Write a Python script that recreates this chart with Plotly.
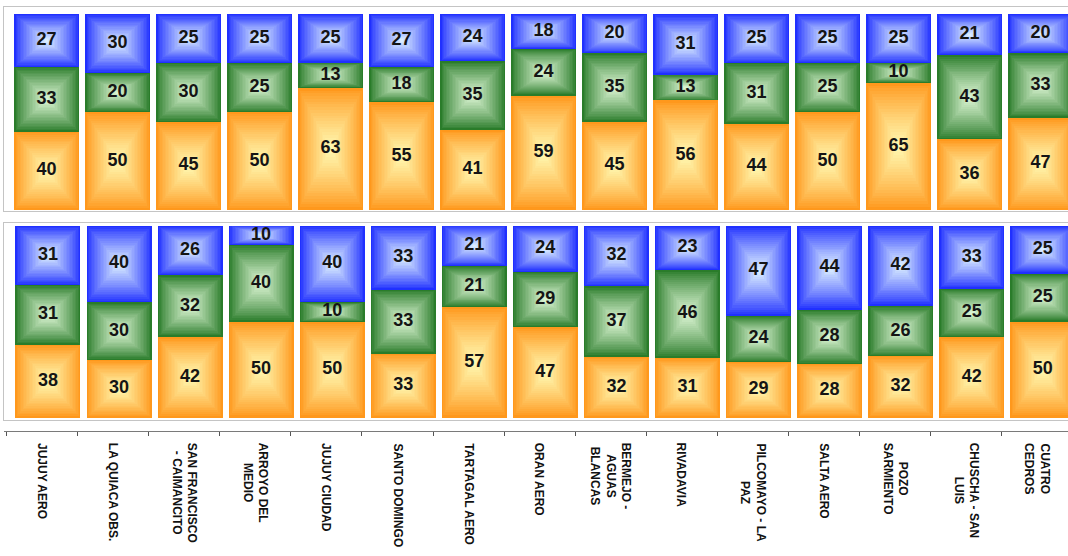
import plotly.graph_objects as go

# Station names (bottom axis)
categories = [
    "JUJUY AERO",
    "LA QUIACA OBS.",
    "SAN FRANCISCO<br>- CAIMANCITO",
    "ARROYO DEL<br>MEDIO",
    "JUJUY CIUDAD",
    "SANTO DOMINGO",
    "TARTAGAL AERO",
    "ORAN AERO",
    "BERMEJO -<br>AGUAS<br>BLANCAS",
    "RIVADAVIA",
    "PILCOMAYO - LA<br>PAZ",
    "SALTA AERO",
    "POZO<br>SARMIENTO",
    "CHUSCHA - SAN<br>LUIS",
    "CUATRO<br>CEDROS",
]

# Upper panel: percentages per station (bottom / middle / top of each stack)
top_orange = [40, 50, 45, 50, 63, 55, 41, 59, 45, 56, 44, 50, 65, 36, 47]
top_green = [33, 20, 30, 25, 13, 18, 35, 24, 35, 13, 31, 25, 10, 43, 33]
top_blue = [27, 30, 25, 25, 25, 27, 24, 18, 20, 31, 25, 25, 25, 21, 20]

# Lower panel
bot_orange = [38, 30, 42, 50, 50, 33, 57, 47, 32, 31, 29, 28, 32, 42, 50]
bot_green = [31, 30, 32, 40, 10, 33, 21, 29, 37, 46, 24, 28, 26, 25, 25]
bot_blue = [31, 40, 26, 10, 40, 33, 21, 24, 32, 23, 47, 44, 42, 33, 25]

# Edge / centre colours of the rectangular "from centre" gradient
EDGE = {"orange": (255, 152, 28), "green": (42, 124, 42), "blue": (32, 48, 255)}
CENTER = {"orange": (255, 248, 176), "green": (218, 244, 210), "blue": (218, 237, 255)}

N_STEPS = 22
GAMMA = 0.85
BAR_W = 0.915
FRAME = "#c4c4c4"
FONT = "Liberation Sans"

W, H = 1068, 556


def mix(c1, c2, t):
    r, g, b = (round(a + (b_ - a) * t) for a, b_ in zip(c1, c2))
    return f"rgb({r},{g},{b})"


def py(px):
    """Pixel row -> paper fraction."""
    return 1 - px / H


xpos = list(range(len(categories)))
fig = go.Figure()

panels = [
    ("x", "y", [("orange", top_orange), ("green", top_green), ("blue", top_blue)]),
    ("x2", "y2", [("orange", bot_orange), ("green", bot_green), ("blue", bot_blue)]),
]

for xa, ya, series in panels:
    totals = [sum(col) for col in zip(*(vals for _, vals in series))]
    cum = [0.0] * len(xpos)
    for name, vals in series:
        pct = [v / t * 100 for v, t in zip(vals, totals)]
        mids = [c + p / 2 for c, p in zip(cum, pct)]
        # nested, shrinking rectangles give the pyramid shading
        for k in range(N_STEPS):
            f = 1 - k / N_STEPS
            t = (k / (N_STEPS - 1)) ** GAMMA
            fig.add_trace(go.Bar(
                x=xpos,
                y=[p * f for p in pct],
                base=[m - p * f / 2 for m, p in zip(mids, pct)],
                width=BAR_W * f,
                marker=dict(color=mix(EDGE[name], CENTER[name], t), line_width=0, opacity=1),
                xaxis=xa, yaxis=ya,
                hoverinfo="skip", showlegend=False,
            ))
        fig.add_trace(go.Scatter(
            x=xpos, y=mids, text=[str(v) for v in vals], mode="text",
            textfont=dict(family=FONT, size=18, color="#151515", weight="bold"),
            xaxis=xa, yaxis=ya, hoverinfo="skip", showlegend=False,
        ))
        cum = [c + p for c, p in zip(cum, pct)]

# Carrier for the category axis
fig.add_trace(go.Scatter(
    x=xpos, y=[0.5] * len(xpos), mode="markers", marker=dict(opacity=0),
    xaxis="x3", yaxis="y3", hoverinfo="skip", showlegend=False,
))

for i, name in enumerate(categories):
    fig.add_annotation(
        x=i, y=py(441), xref="x3", yref="paper",
        text=name, textangle=90, showarrow=False,
        xanchor="center", yanchor="top", align="center",
        font=dict(family=FONT, size=12, color="#111111", weight="bold"),
    )

x0 = 4 / W
common_x = dict(showgrid=False, zeroline=False, showticklabels=False, ticks="",
                showline=True, mirror=True, linecolor=FRAME, linewidth=1)
common_y = dict(showgrid=False, zeroline=False, showticklabels=False, ticks="",
                showline=True, mirror=False, linecolor=FRAME, linewidth=1)

fig.update_layout(
    width=W, height=H,
    margin=dict(l=0, r=0, t=0, b=0),
    paper_bgcolor="white", plot_bgcolor="white",
    barmode="overlay", bargap=0, showlegend=False, hovermode=False,
    xaxis=dict(domain=[x0, 1], range=[-0.599, 14.387], anchor="y", **common_x),
    yaxis=dict(domain=[py(211), py(7)], range=[-0.5, 103.6], anchor="x", **common_y),
    xaxis2=dict(domain=[x0, 1], range=[-0.619, 14.356], anchor="y2", **common_x),
    yaxis2=dict(domain=[py(420), py(223)], range=[-1.3, 101.3], anchor="x2", **common_y),
    xaxis3=dict(domain=[x0, 1], range=[-0.535, 14.43], anchor="y3", side="top",
                showgrid=False, zeroline=False, showticklabels=False,
                tickmode="array", tickvals=[k - 0.5 for k in range(len(categories) + 1)],
                ticks="inside", ticklen=4, tickcolor="#555555", tickwidth=1,
                showline=True, linecolor="#7a7a7a", linewidth=1),
    yaxis3=dict(domain=[0, py(432)], range=[0, 1], anchor="x3", visible=False),
)

fig.write_html("out.html", config={"displayModeBar": False})
